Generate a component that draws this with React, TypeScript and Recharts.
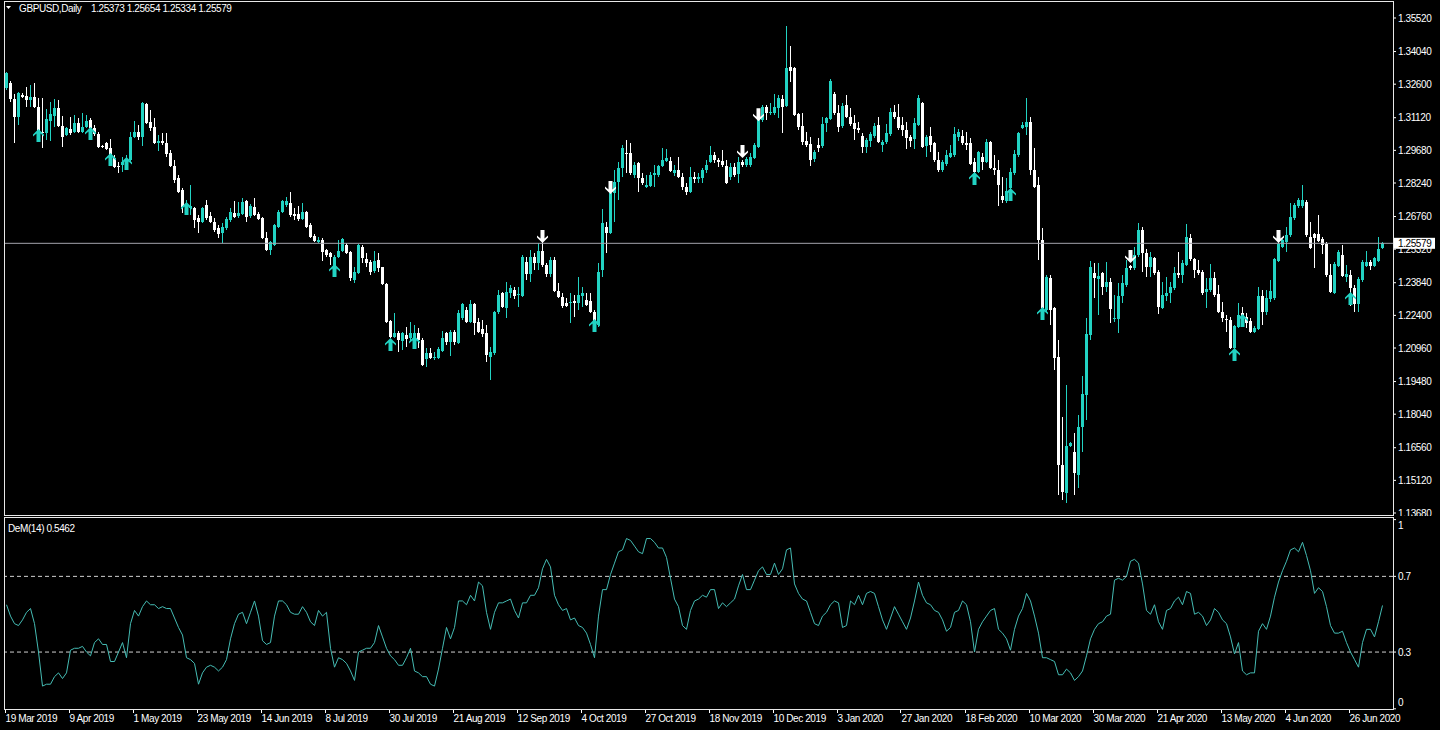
import React from 'react';
import { ComposedChart, Bar, Line, Scatter, XAxis, YAxis, ReferenceLine } from 'recharts';

const symbolName = 'GBPUSD,Daily';
const headerQuote = '1.25373 1.25654 1.25334 1.25579';
const demLabel = 'DeM(14) 0.5462';

const dateLabels = ['19 Mar 2019', '9 Apr 2019', '1 May 2019', '23 May 2019', '14 Jun 2019', '8 Jul 2019', '30 Jul 2019', '21 Aug 2019', '12 Sep 2019', '4 Oct 2019', '27 Oct 2019', '18 Nov 2019', '10 Dec 2019', '3 Jan 2020', '27 Jan 2020', '18 Feb 2020', '10 Mar 2020', '30 Mar 2020', '21 Apr 2020', '13 May 2020', '4 Jun 2020', '26 Jun 2020'];
const dateLabelBars = [0, 16, 32, 48, 64, 80, 96, 112, 128, 144, 160, 176, 192, 208, 224, 240, 256, 272, 288, 304, 320, 336];

const priceTicks = [1.3552, 1.3404, 1.326, 1.3112, 1.2968, 1.2824, 1.2676, 1.2532, 1.2384, 1.224, 1.2096, 1.1948, 1.1804, 1.1656, 1.1512, 1.1368];
const currentPrice = 1.25579;
const demTicks = [1, 0.7, 0.3, 0];
const demLevels = [0.7, 0.3];

const opens = [
1.3243,1.3265,1.3194,1.3115,1.3212,1.3208,1.3190,1.3203,1.3159,1.3049,
1.3044,1.3097,1.3119,1.3155,1.3075,1.3035,1.3062,1.3049,1.3088,1.3049,
1.3071,1.3102,1.3066,1.3040,1.2987,1.3000,1.2978,1.2934,1.2899,1.2903,
1.2899,1.2925,1.3027,1.3049,1.3027,1.3172,1.3093,1.3071,1.3000,1.3009,
1.3000,1.2956,1.2899,1.2846,1.2793,1.2718,1.2714,1.2714,1.2670,1.2652,
1.2727,1.2678,1.2652,1.2625,1.2603,1.2625,1.2661,1.2692,1.2678,1.2687,
1.2745,1.2678,1.2718,1.2687,1.2670,1.2581,1.2528,1.2551,1.2630,1.2696,
1.2727,1.2736,1.2687,1.2687,1.2665,1.2696,1.2638,1.2590,1.2564,1.2573,
1.2528,1.2515,1.2453,1.2497,1.2524,1.2551,1.2520,1.2396,1.2427,1.2542,
1.2489,1.2475,1.2435,1.2484,1.2453,1.2378,1.2215,1.2145,1.2162,1.2127,
1.2153,1.2140,1.2131,1.2162,1.2131,1.2047,1.2074,1.2052,1.2052,1.2083,
1.2162,1.2122,1.2167,1.2118,1.2229,1.2264,1.2211,1.2290,1.2211,1.2180,
1.2162,1.2056,1.2074,1.2255,1.2339,1.2273,1.2339,1.2352,1.2330,1.2326,
1.2475,1.2422,1.2497,1.2471,1.2524,1.2462,1.2422,1.2484,1.2347,1.2321,
1.2295,1.2295,1.2303,1.2295,1.2326,1.2308,1.2303,1.2255,1.2198,1.2440,
1.2630,1.2603,1.2780,1.2828,1.2890,1.2956,1.2956,1.2859,1.2912,1.2846,
1.2806,1.2811,1.2859,1.2859,1.2899,1.2921,1.2921,1.2868,1.2881,1.2850,
1.2806,1.2784,1.2850,1.2841,1.2846,1.2881,1.2917,1.2947,1.2925,1.2921,
1.2899,1.2850,1.2894,1.2863,1.2917,1.2903,1.2903,1.2934,1.2983,1.3102,
1.3159,1.3133,1.3133,1.3155,1.3194,1.3163,1.3335,1.3331,1.3128,1.3075,
1.3009,1.2996,1.2930,1.2991,1.2987,1.3088,1.3106,1.3216,1.3133,1.3075,
1.3168,1.3115,1.3088,1.3066,1.3031,1.2983,1.3009,1.3031,1.3079,1.2991,
1.3005,1.3040,1.3137,1.3115,1.3079,1.3058,1.3027,1.3018,1.3079,1.3177,
1.2987,1.3031,1.3000,1.2925,1.2881,1.2908,1.2939,1.2947,1.3027,1.3031,
1.3000,1.3000,1.2917,1.2872,1.2939,1.2917,1.3005,1.2890,1.2881,1.2767,
1.2745,1.2802,1.2868,1.2947,1.3066,1.3071,1.3093,1.2881,1.2815,1.2573,
1.2264,1.2405,1.2273,1.2056,1.1580,1.1457,1.1664,1.1638,1.1536,1.1748,
1.1889,1.2153,1.2427,1.2400,1.2427,1.2365,1.2387,1.2224,1.2224,1.2326,
1.2374,1.2458,1.2449,1.2506,1.2617,1.2515,1.2453,1.2493,1.2431,1.2273,
1.2326,1.2339,1.2361,1.2427,1.2418,1.2462,1.2581,1.2489,1.2440,1.2431,
1.2343,1.2352,1.2405,1.2334,1.2255,1.2224,1.2219,1.2096,1.2189,1.2251,
1.2233,1.2215,1.2167,1.2180,1.2326,1.2255,1.2312,1.2317,1.2480,1.2542,
1.2564,1.2595,1.2670,1.2722,1.2722,1.2740,1.2586,1.2599,1.2599,1.2577,
1.2555,1.2418,1.2339,1.2458,1.2506,1.2409,1.2418,1.2361,1.2290,1.2396,
1.2458,1.2475,1.2458,1.2480,1.25373];

const highs = [
1.3313,1.3274,1.3216,1.3225,1.3221,1.3247,1.3256,1.3265,1.3199,1.3199,
1.3150,1.3181,1.3194,1.3190,1.3119,1.3071,1.3115,1.3124,1.3111,1.3133,
1.3124,1.3111,1.3079,1.3049,1.2991,1.3005,1.3018,1.2947,1.2917,1.2939,
1.2947,1.3049,1.3097,1.3079,1.3181,1.3177,1.3146,1.3111,1.3035,1.3044,
1.3044,1.2970,1.2925,1.2859,1.2802,1.2749,1.2815,1.2718,1.2683,1.2718,
1.2749,1.2696,1.2670,1.2638,1.2647,1.2674,1.2714,1.2745,1.2740,1.2758,
1.2749,1.2731,1.2758,1.2696,1.2674,1.2608,1.2568,1.2643,1.2705,1.2749,
1.2762,1.2784,1.2714,1.2723,1.2736,1.2700,1.2647,1.2599,1.2586,1.2581,
1.2533,1.2520,1.2506,1.2573,1.2581,1.2559,1.2524,1.2453,1.2555,1.2551,
1.2515,1.2484,1.2524,1.2515,1.2455,1.2382,1.2219,1.2251,1.2171,1.2167,
1.2189,1.2211,1.2198,1.2184,1.2140,1.2096,1.2096,1.2078,1.2100,1.2171,
1.2167,1.2175,1.2175,1.2264,1.2295,1.2277,1.2308,1.2295,1.2229,1.2219,
1.2198,1.2100,1.2259,1.2352,1.2343,1.2387,1.2374,1.2365,1.2365,1.2506,
1.2497,1.2528,1.2515,1.2559,1.2573,1.2471,1.2497,1.2497,1.2383,1.2339,
1.2317,1.2339,1.2330,1.2409,1.2365,1.2339,1.2339,1.2264,1.2471,1.2709,
1.2652,1.2815,1.2881,1.2917,1.2991,1.3014,1.3000,1.2917,1.2917,1.2868,
1.2859,1.2872,1.2903,1.2903,1.2978,1.2974,1.2939,1.2903,1.2939,1.2868,
1.2824,1.2894,1.2872,1.2868,1.2890,1.2925,1.2987,1.2961,1.2934,1.2970,
1.2925,1.2912,1.2912,1.2939,1.2925,1.2939,1.2956,1.3000,1.3115,1.3168,
1.3168,1.3177,1.3216,1.3212,1.3212,1.3516,1.3428,1.3335,1.3133,1.3133,
1.3049,1.3027,1.2970,1.3022,1.3115,1.3115,1.3282,1.3225,1.3168,1.3177,
1.3212,1.3155,1.3124,1.3093,1.3044,1.3022,1.3049,1.3088,1.3115,1.3014,
1.3084,1.3155,1.3168,1.3172,1.3115,1.3093,1.3035,1.3111,1.3212,1.3181,
1.3035,1.3071,1.3005,1.2961,1.2925,1.2970,1.2991,1.3071,1.3062,1.3058,
1.3049,1.3022,1.2934,1.2965,1.2956,1.3018,1.3009,1.2947,1.2925,1.2850,
1.2846,1.2890,1.2970,1.3049,1.3093,1.3199,1.3115,1.2978,1.2850,1.2625,
1.2418,1.2418,1.2277,1.2131,1.1791,1.1933,1.1681,1.1721,1.1801,1.1972,
1.2229,1.2480,1.2471,1.2471,1.2431,1.2475,1.2405,1.2330,1.2383,1.2418,
1.2484,1.2462,1.2542,1.2647,1.2630,1.2533,1.2520,1.2497,1.2440,1.2387,
1.2409,1.2387,1.2453,1.2520,1.2484,1.2643,1.2599,1.2493,1.2484,1.2440,
1.2405,1.2467,1.2431,1.2374,1.2299,1.2242,1.2233,1.2198,1.2295,1.2277,
1.2251,1.2229,1.2193,1.2365,1.2352,1.2352,1.2396,1.2493,1.2595,1.2577,
1.2630,1.2736,1.2736,1.2758,1.2815,1.2749,1.2652,1.2603,1.2683,1.2586,
1.2564,1.2467,1.2475,1.2528,1.2551,1.2462,1.2440,1.2374,1.2409,1.2484,
1.2524,1.2484,1.2497,1.2586,1.25654];

const lows = [
1.3234,1.3181,1.3000,1.3079,1.3199,1.3159,1.3159,1.3155,1.3035,1.2978,
1.3014,1.3009,1.3071,1.3071,1.2983,1.3031,1.3035,1.3044,1.3044,1.3044,
1.3066,1.3035,1.3031,1.2978,1.2978,1.2970,1.2939,1.2890,1.2868,1.2872,
1.2881,1.2917,1.3022,1.3014,1.2987,1.3084,1.3053,1.2996,1.2965,1.2991,
1.2939,1.2895,1.2824,1.2780,1.2692,1.2696,1.2683,1.2625,1.2603,1.2647,
1.2661,1.2647,1.2608,1.2581,1.2559,1.2617,1.2652,1.2670,1.2670,1.2683,
1.2652,1.2670,1.2678,1.2661,1.2577,1.2524,1.2506,1.2546,1.2625,1.2692,
1.2718,1.2674,1.2661,1.2656,1.2661,1.2625,1.2581,1.2564,1.2560,1.2480,
1.2497,1.2462,1.2449,1.2493,1.2520,1.2511,1.2392,1.2383,1.2422,1.2471,
1.2453,1.2418,1.2427,1.2431,1.2374,1.2207,1.2140,1.2140,1.2078,1.2087,
1.2100,1.2122,1.2109,1.2096,1.2017,1.2012,1.2048,1.2043,1.2048,1.2078,
1.2109,1.2060,1.2109,1.2114,1.2219,1.2207,1.2207,1.2153,1.2162,1.2145,
1.2034,1.1955,1.2065,1.2246,1.2273,1.2229,1.2317,1.2312,1.2277,1.2321,
1.2396,1.2387,1.2440,1.2440,1.2453,1.2409,1.2409,1.2343,1.2317,1.2273,
1.2277,1.2207,1.2233,1.2264,1.2277,1.2281,1.2251,1.2198,1.2189,1.2409,
1.2515,1.2599,1.2652,1.2749,1.2850,1.2868,1.2859,1.2846,1.2784,1.2815,
1.2802,1.2806,1.2806,1.2850,1.2894,1.2917,1.2872,1.2855,1.2846,1.2793,
1.2771,1.2780,1.2824,1.2824,1.2824,1.2868,1.2912,1.2912,1.2894,1.2894,
1.2820,1.2837,1.2850,1.2824,1.2894,1.2894,1.2894,1.2930,1.2978,1.3093,
1.3102,1.3124,1.3124,1.3111,1.3044,1.3159,1.3269,1.3119,1.3058,1.2991,
1.2983,1.2899,1.2917,1.2961,1.2978,1.3049,1.3102,1.3124,1.3049,1.3066,
1.3111,1.3075,1.3014,1.3044,1.2956,1.2956,1.2983,1.3022,1.3000,1.2961,
1.2996,1.3031,1.3106,1.3058,1.3031,1.2974,1.2983,1.2974,1.3075,1.2978,
1.2939,1.2961,1.2917,1.2872,1.2872,1.2899,1.2934,1.2939,1.3009,1.2991,
1.2970,1.2903,1.2868,1.2868,1.2881,1.2912,1.2886,1.2859,1.2722,1.2736,
1.2736,1.2780,1.2859,1.2939,1.3062,1.3035,1.2859,1.2802,1.2484,1.2264,
1.2255,1.2198,1.1999,1.1448,1.1426,1.1413,1.1659,1.1448,1.1479,1.1638,
1.1779,1.2131,1.2317,1.2242,1.2330,1.2343,1.2207,1.2211,1.2162,1.2295,
1.2365,1.2440,1.2440,1.2497,1.2431,1.2409,1.2409,1.2418,1.2246,1.2268,
1.2303,1.2295,1.2352,1.2405,1.2383,1.2458,1.2480,1.2405,1.2418,1.2330,
1.2273,1.2343,1.2321,1.2251,1.2211,1.2167,1.2092,1.2087,1.2184,1.2207,
1.2184,1.2162,1.2162,1.2175,1.2198,1.2242,1.2299,1.2308,1.2475,1.2537,
1.2520,1.2586,1.2661,1.2714,1.2714,1.2586,1.2533,1.2449,1.2564,1.2511,
1.2409,1.2339,1.2334,1.2453,1.2409,1.2387,1.2281,1.2255,1.2255,1.2387,
1.2453,1.2440,1.2453,1.2475,1.25334];

const closes = [
1.3309,1.3194,1.3115,1.3221,1.3203,1.3190,1.3203,1.3159,1.3049,1.3045,
1.3106,1.3128,1.3155,1.3075,1.3027,1.3066,1.3044,1.3088,1.3049,1.3071,
1.3097,1.3066,1.3040,1.2983,1.2983,1.2974,1.2947,1.2895,1.2895,1.2917,
1.2925,1.3027,1.3049,1.3027,1.3177,1.3088,1.3066,1.3000,1.3009,1.3000,
1.2952,1.2899,1.2837,1.2784,1.2718,1.2727,1.2723,1.2661,1.2652,1.2714,
1.2670,1.2652,1.2617,1.2599,1.2630,1.2665,1.2696,1.2674,1.2692,1.2740,
1.2674,1.2723,1.2683,1.2665,1.2581,1.2528,1.2564,1.2638,1.2696,1.2745,
1.2745,1.2683,1.2678,1.2665,1.2696,1.2630,1.2586,1.2568,1.2573,1.2520,
1.2506,1.2497,1.2497,1.2524,1.2577,1.2515,1.2405,1.2431,1.2551,1.2493,
1.2471,1.2431,1.2480,1.2449,1.2378,1.2211,1.2145,1.2162,1.2131,1.2162,
1.2136,1.2162,1.2162,1.2131,1.2021,1.2074,1.2052,1.2056,1.2092,1.2140,
1.2122,1.2167,1.2122,1.2250,1.2290,1.2211,1.2290,1.2207,1.2167,1.2158,
1.2065,1.2078,1.2255,1.2330,1.2277,1.2343,1.2361,1.2326,1.2334,1.2497,
1.2422,1.2497,1.2471,1.2524,1.2462,1.2422,1.2484,1.2347,1.2321,1.2281,
1.2281,1.2299,1.2295,1.2330,1.2339,1.2286,1.2255,1.2207,1.2431,1.2647,
1.2603,1.2780,1.2828,1.2890,1.2978,1.2952,1.2868,1.2903,1.2846,1.2824,
1.2815,1.2859,1.2868,1.2899,1.2925,1.2934,1.2877,1.2881,1.2850,1.2806,
1.2784,1.2850,1.2841,1.2850,1.2881,1.2903,1.2947,1.2925,1.2917,1.2903,
1.2824,1.2894,1.2859,1.2917,1.2903,1.2930,1.2939,1.2991,1.3111,1.3159,
1.3133,1.3137,1.3159,1.3199,1.3159,1.3331,1.3318,1.3124,1.3071,1.3005,
1.2991,1.2925,1.2961,1.2978,1.3084,1.3111,1.3274,1.3133,1.3071,1.3163,
1.3115,1.3084,1.3062,1.3058,1.2983,1.3014,1.3040,1.3075,1.3005,1.3005,
1.3044,1.3137,1.3115,1.3066,1.3058,1.3022,1.3009,1.3088,1.3199,1.2983,
1.3027,1.2991,1.2925,1.2881,1.2917,1.2947,1.2956,1.3040,1.3049,1.3000,
1.2991,1.2908,1.2872,1.2961,1.2917,1.3005,1.2890,1.2881,1.2815,1.2749,
1.2789,1.2872,1.2952,1.3044,1.3079,1.3093,1.2881,1.2806,1.2573,1.2273,
1.2409,1.2264,1.2052,1.1580,1.1461,1.1664,1.1677,1.1545,1.1748,1.1893,
1.2158,1.2453,1.2405,1.2413,1.2365,1.2387,1.2268,1.2229,1.2326,1.2383,
1.2449,1.2449,1.2506,1.2617,1.2515,1.2453,1.2497,1.2427,1.2277,1.2330,
1.2339,1.2365,1.2427,1.2418,1.2471,1.2586,1.2489,1.2440,1.2427,1.2339,
1.2356,1.2405,1.2330,1.2255,1.2229,1.2219,1.2096,1.2193,1.2242,1.2211,
1.2207,1.2167,1.2184,1.2326,1.2255,1.2317,1.2347,1.2489,1.2555,1.2573,
1.2595,1.2674,1.2727,1.2749,1.2749,1.2595,1.2537,1.2581,1.2568,1.2551,
1.2418,1.2343,1.2467,1.2520,1.2413,1.2422,1.2361,1.2290,1.2400,1.2475,
1.2475,1.2458,1.2493,1.2533,1.25579];

const demValues = [
0.55,0.49,0.45,0.44,0.47,0.51,0.53,0.45,0.30,0.12,
0.13,0.13,0.17,0.19,0.16,0.19,0.31,0.32,0.32,0.33,
0.30,0.28,0.35,0.37,0.34,0.34,0.25,0.25,0.30,0.35,
0.27,0.45,0.52,0.49,0.54,0.57,0.55,0.55,0.53,0.54,
0.53,0.53,0.48,0.43,0.39,0.27,0.26,0.24,0.13,0.19,
0.22,0.23,0.22,0.20,0.22,0.26,0.37,0.45,0.50,0.51,
0.45,0.51,0.57,0.49,0.36,0.34,0.35,0.49,0.57,0.57,
0.55,0.51,0.50,0.50,0.54,0.51,0.46,0.44,0.52,0.49,
0.51,0.32,0.22,0.27,0.26,0.24,0.20,0.15,0.30,0.31,
0.32,0.32,0.35,0.44,0.38,0.32,0.28,0.26,0.23,0.23,
0.27,0.32,0.20,0.19,0.17,0.17,0.13,0.12,0.21,0.32,
0.43,0.37,0.43,0.57,0.57,0.55,0.60,0.57,0.67,0.65,
0.51,0.42,0.51,0.56,0.56,0.57,0.58,0.52,0.48,0.56,
0.56,0.60,0.60,0.64,0.74,0.79,0.75,0.60,0.55,0.52,
0.53,0.47,0.48,0.44,0.43,0.40,0.34,0.27,0.49,0.63,
0.63,0.71,0.77,0.83,0.84,0.90,0.89,0.86,0.83,0.82,
0.90,0.90,0.88,0.85,0.85,0.80,0.69,0.58,0.54,0.44,
0.42,0.52,0.57,0.58,0.60,0.59,0.63,0.63,0.53,0.56,
0.54,0.56,0.58,0.65,0.71,0.63,0.63,0.68,0.73,0.75,
0.71,0.71,0.77,0.71,0.74,0.84,0.85,0.66,0.61,0.58,
0.57,0.51,0.45,0.44,0.49,0.51,0.55,0.57,0.56,0.43,
0.44,0.57,0.55,0.60,0.55,0.61,0.62,0.61,0.54,0.47,
0.42,0.48,0.54,0.50,0.46,0.42,0.48,0.57,0.67,0.60,
0.56,0.55,0.52,0.51,0.47,0.41,0.43,0.51,0.52,0.57,
0.55,0.46,0.30,0.42,0.46,0.49,0.52,0.53,0.42,0.40,
0.37,0.31,0.42,0.49,0.53,0.61,0.57,0.49,0.40,0.27,
0.27,0.26,0.25,0.18,0.18,0.21,0.19,0.15,0.17,0.20,
0.28,0.37,0.42,0.45,0.46,0.49,0.50,0.68,0.69,0.68,
0.70,0.78,0.79,0.77,0.66,0.52,0.50,0.55,0.46,0.42,
0.52,0.53,0.57,0.59,0.55,0.62,0.61,0.50,0.51,0.49,
0.44,0.47,0.53,0.51,0.47,0.45,0.38,0.29,0.35,0.20,
0.18,0.19,0.19,0.41,0.45,0.42,0.49,0.59,0.67,0.73,
0.78,0.84,0.85,0.83,0.88,0.81,0.73,0.61,0.64,0.62,
0.54,0.44,0.40,0.40,0.41,0.35,0.30,0.26,0.22,0.35,
0.42,0.42,0.38,0.46,0.5462];

const upArrowBars = [8, 21, 26, 30, 45, 82, 96, 102, 147, 242, 251, 259, 307, 309, 336];
const upArrowPrices = [1.3062, 1.3071, 1.2956, 1.2939, 1.2740, 1.2467, 1.2140, 1.2149, 1.2224, 1.2872, 1.2802, 1.2277, 1.2096, 1.2246, 1.2343];
const downArrowBars = [134, 151, 184, 188, 281, 318];
const downArrowPrices = [1.2559, 1.2775, 1.2934, 1.3097, 1.2471, 1.2559];

const priceRows = opens.map((o, i) => ({ i, o, h: highs[i], l: lows[i], c: closes[i], range: [lows[i], highs[i]] }));
const demRows = demValues.map((v, i) => ({ i, dem: v }));
const upRows = upArrowBars.map((b, k) => ({ i: b, p: upArrowPrices[k] }));
const downRows = downArrowBars.map((b, k) => ({ i: b, p: downArrowPrices[k] }));

const X_DOMAIN: [number, number] = [-0.625, 346.625];
const PRICE_DOMAIN: [number, number] = [1.13592, 1.3627];
const DEM_DOMAIN: [number, number] = [-0.001, 1.0085];

const BULL = '#22d3c3';
const BEAR = '#ffffff';
const DEM_COLOR = '#45bcb4';
const FONT = '"Liberation Sans", Arial, sans-serif';
const FS = 10;
const LS = -0.4;

const Candle = (props: any) => {
  const { x, y, width, height, payload } = props;
  if (payload == null || x == null || y == null) return null;
  const { o, h, l, c } = payload;
  const cx = x + width / 2;
  const span = h - l;
  const toY = (v: number) => (span === 0 ? y : y + ((h - v) / span) * height);
  const up = c >= o;
  const color = up ? BULL : BEAR;
  const top = toY(Math.max(o, c));
  const bot = toY(Math.min(o, c));
  return (
    <g>
      <line x1={cx} x2={cx} y1={y} y2={y + height} stroke={color} strokeWidth={1} shapeRendering="crispEdges" />
      <rect x={cx - 1.5} y={top} width={3} height={Math.max(1, bot - top)} fill={color} shapeRendering="crispEdges" />
    </g>
  );
};

const UpArrow = (props: any) => {
  const { cx, cy } = props;
  if (cx == null || cy == null) return null;
  const pts = [[0, 0], [5.5, 5.5], [5.5, 7.5], [2, 4.5], [2, 13], [-2, 13], [-2, 4.5], [-5.5, 7.5], [-5.5, 5.5]];
  return <polygon points={pts.map(([a, b]) => `${cx + a},${cy + b}`).join(' ')} fill={BULL} />;
};

const DownArrow = (props: any) => {
  const { cx, cy } = props;
  if (cx == null || cy == null) return null;
  const pts = [[0, 0], [5.5, -5.5], [5.5, -7.5], [2, -4.5], [2, -13], [-2, -13], [-2, -4.5], [-5.5, -7.5], [-5.5, -5.5]];
  return <polygon points={pts.map(([a, b]) => `${cx + a},${cy + b}`).join(' ')} fill={BEAR} />;
};

const PriceTick = (props: any) => {
  const { x, y, payload } = props;
  const v = payload.value as number;
  if (v === currentPrice) {
    return (
      <g>
        <rect x={x + 1} y={y - 5.5} width={41} height={11} fill="#ffffff" />
        <text x={x + 5} y={y + 3.6} fill="#000" fontSize={FS} letterSpacing={LS} fontFamily={FONT}>{v.toFixed(5)}</text>
      </g>
    );
  }
  return (
    <g>
      <line x1={x} x2={x + 3} y1={y} y2={y} stroke="#fff" />
      <text x={x + 5} y={y + 3.6} fill="#fff" fontSize={FS} letterSpacing={LS} fontFamily={FONT}>{v.toFixed(5)}</text>
    </g>
  );
};

const DemTick = (props: any) => {
  const { x, y, payload } = props;
  const v = payload.value as number;
  const off = v === 1 ? 5.5 : v === 0 ? -6.5 : 0;
  return (
    <g>
      <line x1={x} x2={x + 3} y1={y} y2={y} stroke="#fff" />
      <text x={x + 5} y={y + off + 3.6} fill="#fff" fontSize={FS} letterSpacing={LS} fontFamily={FONT}>{String(v)}</text>
    </g>
  );
};

const DateTick = (props: any) => {
  const { x, y, payload } = props;
  const idx = dateLabelBars.indexOf(payload.value);
  const label = idx >= 0 ? dateLabels[idx] : '';
  const tx = Math.floor(x - 1.5) + 0.5;
  return (
    <g>
      <line x1={tx} x2={tx} y1={y} y2={y + 4} stroke="#fff" />
      <text x={x - 1} y={y + 12.7} fill="#fff" fontSize={FS} letterSpacing={LS} fontFamily={FONT}>{label}</text>
    </g>
  );
};

export default function App() {
  return (
    <div style={{ position: 'fixed', left: 0, top: 0, width: 1440, height: 730, background: '#000', overflow: 'hidden' }}>
      <div style={{ position: 'absolute', left: 0, top: 0 }}>
        <ComposedChart width={1440} height={516} data={priceRows} margin={{ top: 1, right: 0, bottom: 1, left: 4 }} style={{ overflow: 'visible' }}>
          <XAxis dataKey="i" type="number" domain={X_DOMAIN} allowDataOverflow hide />
          <YAxis
            orientation="right"
            type="number"
            width={47}
            domain={PRICE_DOMAIN}
            allowDataOverflow
            ticks={[...priceTicks, currentPrice]}
            interval={0}
            tick={<PriceTick />}
            tickSize={0}
            tickMargin={0}
            axisLine={false}
            tickLine={false}
          />
          <ReferenceLine y={currentPrice} stroke="#a4a4ac" strokeWidth={1} />
          <Bar dataKey="range" shape={<Candle />} barSize={4} isAnimationActive={false} />
          <Scatter data={upRows} dataKey="p" shape={<UpArrow />} isAnimationActive={false} />
          <Scatter data={downRows} dataKey="p" shape={<DownArrow />} isAnimationActive={false} />
        </ComposedChart>
      </div>
      <div style={{ position: 'absolute', left: 0, top: 517 }}>
        <ComposedChart width={1440} height={213} data={demRows} margin={{ top: 1, right: 0, bottom: 0, left: 4 }} style={{ overflow: 'visible' }}>
          <XAxis
            dataKey="i"
            type="number"
            domain={X_DOMAIN}
            allowDataOverflow
            ticks={dateLabelBars}
            interval={0}
            height={21}
            tick={<DateTick />}
            tickSize={0}
            tickMargin={0}
            axisLine={false}
            tickLine={false}
          />
          <YAxis
            orientation="right"
            type="number"
            width={47}
            domain={DEM_DOMAIN}
            allowDataOverflow
            ticks={demTicks}
            interval={0}
            tick={<DemTick />}
            tickSize={0}
            tickMargin={0}
            axisLine={false}
            tickLine={false}
          />
          {demLevels.map((lv) => (
            <ReferenceLine key={lv} y={lv} stroke="#d0d0d0" strokeDasharray="4 3" strokeWidth={1} />
          ))}
          <Line dataKey="dem" type="linear" stroke={DEM_COLOR} strokeWidth={1} dot={false} isAnimationActive={false} />
        </ComposedChart>
      </div>
      <svg width={1440} height={730} style={{ position: 'absolute', left: 0, top: 0, pointerEvents: 'none' }}>
        <g stroke="#e8e8e8" strokeWidth={1} shapeRendering="crispEdges">
          <line x1={4.5} y1={1} x2={4.5} y2={516} />
          <line x1={1393.5} y1={1} x2={1393.5} y2={516} />
          <line x1={4} y1={1.5} x2={1394} y2={1.5} />
          <line x1={4} y1={515.5} x2={1394} y2={515.5} />
          <line x1={4.5} y1={517} x2={4.5} y2={710} />
          <line x1={1393.5} y1={517} x2={1393.5} y2={710} />
          <line x1={4} y1={517.5} x2={1394} y2={517.5} />
          <line x1={4} y1={709.5} x2={1394} y2={709.5} />
        </g>
        <polygon points="6,6 11,6 8.5,9" fill="#fff" />
        <text x={19} y={12} fill="#fff" fontSize={FS} letterSpacing={LS} fontFamily={FONT}>{symbolName}</text>
        <text x={91} y={12} fill="#fff" fontSize={FS} letterSpacing={LS} fontFamily={FONT}>{headerQuote}</text>
        <text x={8} y={531.5} fill="#fff" fontSize={FS} letterSpacing={LS} fontFamily={FONT}>{demLabel}</text>
      </svg>
    </div>
  );
}
